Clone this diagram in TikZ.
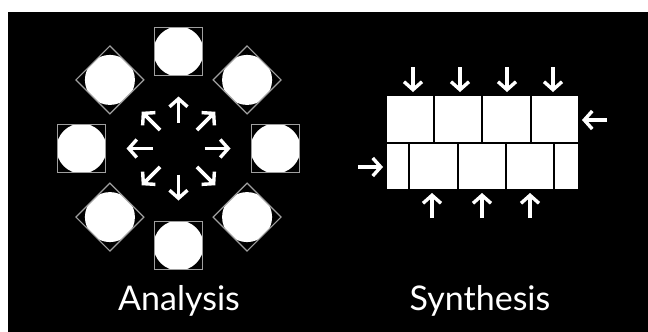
\documentclass[tikz,border=0pt]{standalone}
\usepackage{fontspec}
\setmainfont{Lato}
\usetikzlibrary{arrows.meta,calc}
\tikzset{
  sq/.style={draw=gray!75, line width=1.2pt, minimum size=48pt, inner sep=0pt, outer sep=0pt,
    path picture={\fill[white] (path picture bounding box.center) circle (25pt);}},
  arr/.style={draw=white, line width=3.6pt, -{Straight Barb[length=8pt,width=18pt,line width=3.4pt]}},
  brick/.style={fill=white, draw=none},
  lbl/.style={text=white, font=\fontsize{34}{39}\selectfont, inner sep=0pt, anchor=base}
}
\begin{document}
\begin{tikzpicture}[x=1pt,y=-1pt]
\useasboundingbox (0,0) rectangle (648,332);
\fill[white] (0,0) rectangle (648,332);
\fill[black] (8,12) rectangle (648,332);
% Analysis ring
\coordinate (C) at (178.5,148.5);
\foreach \a [count=\i] in {0,45,90,135,180,225,270,315}{
  \node[sq, rotate=\a] (s\i) at ($(C)+(\a:97pt)$) {};
  \coordinate (t\i) at ($(C)+(\a:26pt)$);
  \coordinate (h\i) at ($(C)+(\a:52pt)$);
  \draw[arr] (t\i) -- (h\i);
}
% Synthesis bricks
\foreach \xa/\xb [count=\i] in {387/433,435/481,483/530,532/578}{
  \fill[brick] (\xa,96) rectangle (\xb,142);
}
\foreach \xa/\xb [count=\i] in {387/408,410/457,459/505,507/553,555/578}{
  \fill[brick] (\xa,144) rectangle (\xb,189);
}
\foreach \x [count=\i] in {413,460,507,553}{
  \coordinate (ta\i) at (\x,67);
  \coordinate (tb\i) at (\x,92);
  \draw[arr] (ta\i) -- (tb\i);
}
\foreach \x [count=\i] in {432,482,530}{
  \coordinate (ba\i) at (\x,218);
  \coordinate (bb\i) at (\x,193);
  \draw[arr] (ba\i) -- (bb\i);
}
\coordinate (ra) at (607,120);
\coordinate (rb) at (582,120);
\draw[arr] (ra) -- (rb);
\coordinate (la) at (358,167);
\coordinate (lb) at (383,167);
\draw[arr] (la) -- (lb);
\node[lbl] (ana) at (179,310) {Analysis};
\node[lbl] (syn) at (480,310) {Synthesis};
\end{tikzpicture}
\end{document}
